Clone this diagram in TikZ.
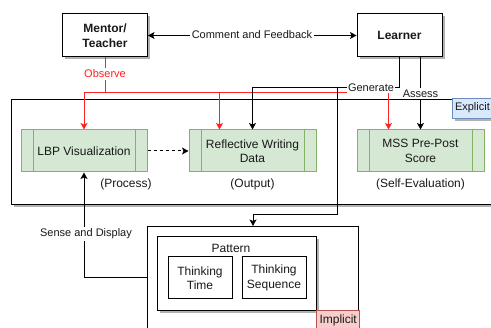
\documentclass[tikz,border=0pt]{standalone}
\usepackage{fontspec}
\setmainfont{Liberation Sans}
\usetikzlibrary{arrows.meta,shadows}

\definecolor{procfill}{HTML}{D5E8D4}
\definecolor{procline}{HTML}{82B366}
\definecolor{expfill}{HTML}{DAE8FC}
\definecolor{expline}{HTML}{6C8EBF}
\definecolor{impfill}{HTML}{F8CECC}
\definecolor{impline}{HTML}{B85450}
\definecolor{obsred}{HTML}{FF2020}

\begin{document}
\begin{tikzpicture}[x=1pt,y=-1pt,line width=1pt,
  every node/.style={font=\fontsize{12}{14.5}\selectfont,inner sep=0pt,text=black!90},
  shade/.style={drop shadow={shadow xshift=2.5pt,shadow yshift=-2.5pt,opacity=0.3,fill=black}},
  actor/.style={draw,fill=white,shade,align=center,font=\bfseries\fontsize{12}{15}\selectfont,
    minimum width=85,minimum height=43},
  procbox/.style={draw=procline,fill=procfill,align=center,minimum width=127,minimum height=42},
  plainbox/.style={draw,fill=white,align=center,minimum width=64,minimum height=42},
  container/.style={draw,fill=white,anchor=north west},
  tagbox/.style={anchor=north west,minimum height=20,inner xsep=3pt},
  caption/.style={font=\fontsize{12}{14.5}\selectfont},
  edgelabel/.style={fill=white,font=\fontsize{11}{13}\selectfont,inner xsep=1.5pt,inner ysep=2pt},
  arr/.style={-{Stealth[length=6.5pt,width=7pt,inset=1.5pt]}},
  biarr/.style={{Stealth[length=6.5pt,width=7pt,inset=1.5pt]}-{Stealth[length=6.5pt,width=7pt,inset=1.5pt]}}]

\clip (0,0) rectangle (491,328);

% containers
\node[container,shade,minimum width=510,minimum height=105] (explicit) at (11,99) {};
\node[container,minimum width=211,minimum height=120] (implicit) at (147,226) {};
\node[container,shade,minimum width=159,minimum height=74] (pattern) at (157,236) {};
\node[anchor=north west,draw=expline,fill=expfill,shade,minimum width=48,minimum height=20]
  (exptag) at (452,98) {};
\node[anchor=west,font=\fontsize{11}{13}\selectfont] (exptxt) at (454.5,108) {Explicit};
\node[tagbox,draw=impline,fill=impfill,minimum width=42] (imptag) at (316,310) {Implicit};

% actors
\node[actor] (mentor) at (105,35.5) {Mentor/\\Teacher};
\node[actor] (learner) at (399.5,35.5) {Learner};

% process boxes
\node[procbox,minimum width=126] (lbp) at (84,151) {LBP Visualization};
\node[procbox] (refl) at (252.5,151) {Reflective Writing\\Data};
\node[procbox] (mss) at (420.5,151) {MSS Pre-Post\\Score};
\foreach \n in {lbp,refl,mss}{
  \draw[procline] ([xshift=12.5]\n.north west) -- ([xshift=12.5]\n.south west);
  \draw[procline] ([xshift=-12.5]\n.north east) -- ([xshift=-12.5]\n.south east);
}

\node[caption] (proc) at (126,184) {(Process)};
\node[caption] (outp) at (252.5,184) {(Output)};
\node[caption] (self) at (420.5,184) {(Self-Evaluation)};

% pattern contents
\node[caption] (pattxt) at (231,248) {Pattern};
\node[plainbox] (ttime) at (200,278) {Thinking\\Time};
\node[plainbox] (tseq) at (274,278) {Thinking\\Sequence};

% junction points
\coordinate (obs) at (105,93);
\coordinate (gen) at (399.5,88);
\coordinate (split) at (337,88);
\coordinate (bend) at (337,215);

% connectors
\draw[biarr] (mentor) -- (learner);

\draw[obsred] (mentor.south) -- (obs);
\draw[obsred,arr] (obs) -| (lbp.north);
\draw[obsred,arr] (obs) -| ([xshift=31]refl.north west);
\draw[obsred,arr] (obs) -| ([xshift=32]mss.north west);

\draw[arr] (learner.south) -- (gen) -| (refl.north);
\draw[arr] (split) -- (bend) -| (implicit.north);
\draw[arr] (mss.north |- learner.south) -- (mss.north);

\draw[arr,dashed] (lbp) -- (refl);
\draw[arr] (ttime -| implicit.west) -| (lbp.south);

% connector labels
\node[edgelabel] (lcomment) at (252,35) {Comment and Feedback};
\node[edgelabel,text=obsred] (lobserve) at (105,74) {Observe};
\node[edgelabel] (lgenerate) at (371,87.5) {Generate};
\node[edgelabel] (lassess) at (420.5,93.5) {Assess};
\node[edgelabel] (lsense) at (86,234) {Sense and Display};

\end{tikzpicture}
\end{document}
